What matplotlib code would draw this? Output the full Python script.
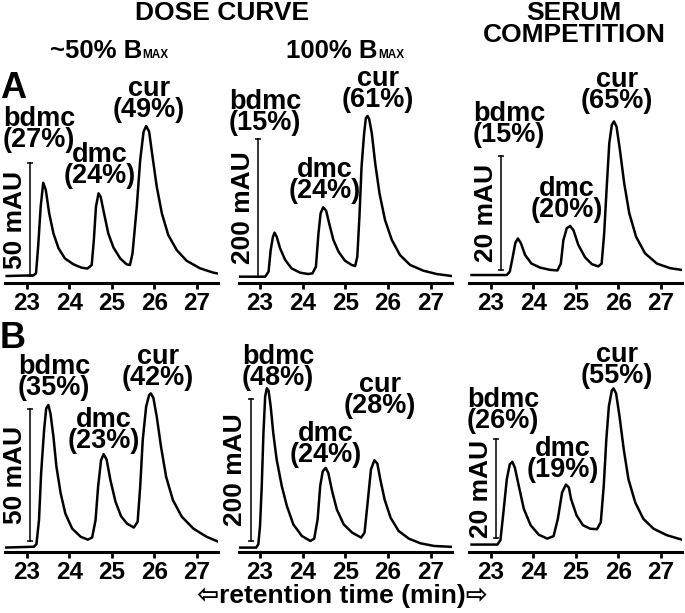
import matplotlib
matplotlib.use("Agg")
from matplotlib import pyplot as plt

plt.rcParams['font.family'] = ['Liberation Sans', 'DejaVu Sans']
plt.rcParams['font.weight'] = 'bold'

# ---- data (time in min, signal in mAU) ----
compounds = ['bdmc', 'dmc', 'cur']
tick_minutes = [23, 24, 25, 26, 27]

a1_t = [22.53, 23.16, 23.22, 23.27, 23.33, 23.39, 23.45, 23.53, 23.63, 23.75,
        23.90, 24.10, 24.29, 24.43, 24.53, 24.58, 24.63, 24.69, 24.74, 24.82,
        24.92, 25.04, 25.20, 25.35, 25.43, 25.49, 25.59, 25.67, 25.75, 25.81,
        25.88, 25.96, 26.06, 26.18, 26.33, 26.53, 26.76, 27.08, 27.39, 27.55]
a1_mau = [0.0, 0.3, 1.2, 13.0, 30.8, 41.4, 38.2, 27.8, 18.9, 12.3,
          7.8, 5.2, 3.7, 3.3, 4.9, 16.0, 30.8, 36.7, 35.2, 27.8,
          18.9, 12.7, 7.8, 5.2, 4.9, 10.1, 30.8, 51.5, 64.1, 66.6,
          64.1, 53.0, 39.6, 27.8, 18.2, 11.5, 6.8, 3.4, 1.5, 0.9]
a1_pct = [27, 24, 49]

a2_t = [22.49, 23.12, 23.20, 23.25, 23.30, 23.34, 23.39, 23.47, 23.59, 23.74,
        23.94, 24.13, 24.23, 24.31, 24.37, 24.42, 24.48, 24.55, 24.63, 24.72,
        24.84, 24.99, 25.15, 25.23, 25.28, 25.33, 25.38, 25.44, 25.48, 25.52,
        25.56, 25.62, 25.70, 25.80, 25.93, 26.09, 26.28, 26.52, 26.83, 27.14, 27.49]
a2_mau = [0.0, 0.0, 7.3, 38.8, 57.3, 64.1, 58.3, 41.3, 24.3, 12.1,
          5.8, 3.9, 4.9, 14.6, 63.1, 92.2, 101.0, 96.1, 75.2, 53.4,
          36.4, 23.3, 17.0, 15.5, 29.1, 87.4, 160.2, 208.7, 230.6, 234.0,
          229.1, 208.7, 165.0, 121.4, 82.5, 53.4, 31.6, 17.0, 8.7, 3.9, 1.0]
a2_pct = [15, 24, 61]

a3_t = [22.55, 23.38, 23.45, 23.52, 23.58, 23.64, 23.71, 23.81, 23.96, 24.16,
        24.40, 24.57, 24.65, 24.71, 24.79, 24.87, 24.95, 25.06, 25.22, 25.38,
        25.53, 25.61, 25.67, 25.73, 25.79, 25.85, 25.90, 25.96, 26.04, 26.14,
        26.26, 26.42, 26.63, 26.91, 27.22, 27.57]
a3_mau = [0.0, 0.0, 0.6, 3.2, 5.6, 6.4, 5.6, 3.5, 2.0, 1.3,
          0.9, 0.8, 2.0, 6.1, 8.2, 8.6, 7.8, 5.3, 3.1, 1.9,
          1.5, 2.0, 7.3, 15.5, 23.1, 26.3, 26.9, 26.0, 21.9, 16.1,
          10.8, 6.7, 3.8, 2.0, 1.2, 0.8]
a3_pct = [15, 20, 65]

b1_t = [22.51, 23.17, 23.23, 23.29, 23.34, 23.41, 23.46, 23.51, 23.56, 23.63,
        23.70, 23.80, 23.91, 24.07, 24.27, 24.44, 24.54, 24.62, 24.68, 24.75,
        24.81, 24.88, 24.97, 25.09, 25.22, 25.36, 25.52, 25.61, 25.67, 25.73,
        25.81, 25.88, 25.92, 25.98, 26.06, 26.16, 26.28, 26.44, 26.65, 26.92,
        27.23, 27.51]
b1_mau = [0.0, 0.3, 1.3, 10.4, 28.2, 44.7, 52.9, 54.2, 51.0, 42.1,
          30.7, 20.6, 12.9, 7.2, 4.1, 3.0, 3.8, 10.4, 23.1, 33.2,
          35.5, 33.5, 25.6, 17.4, 11.9, 9.1, 7.6, 9.8, 23.1, 40.9,
          53.6, 58.0, 58.6, 56.9, 49.7, 38.3, 26.9, 18.0, 11.7, 7.2,
          4.1, 2.2]
b1_pct = [35, 23, 42]

b2_t = [22.51, 22.91, 22.96, 23.00, 23.04, 23.08, 23.12, 23.16, 23.20, 23.25,
        23.31, 23.39, 23.51, 23.63, 23.78, 23.98, 24.18, 24.27, 24.35, 24.41,
        24.47, 24.54, 24.60, 24.69, 24.80, 24.96, 25.16, 25.37, 25.45, 25.53,
        25.60, 25.68, 25.75, 25.82, 25.92, 26.06, 26.25, 26.49, 26.76, 27.08, 27.55]
b2_mau = [0.0, 0.0, 4.7, 30.4, 86.7, 161.6, 213.1, 224.8, 221.5, 199.1,
          161.6, 124.1, 86.7, 58.5, 32.8, 16.4, 9.4, 12.6, 39.8, 86.7,
          107.7, 112.4, 105.4, 79.6, 53.9, 32.8, 21.1, 14.1, 21.1, 68.0,
          110.1, 123.2, 118.5, 96.0, 67.9, 42.2, 23.4, 12.6, 6.1, 2.3, 0.9]
b2_pct = [48, 24, 28]

b3_t = [22.55, 23.16, 23.23, 23.30, 23.38, 23.45, 23.51, 23.57, 23.66, 23.78,
        23.94, 24.13, 24.33, 24.48, 24.58, 24.68, 24.77, 24.84, 24.89, 25.02,
        25.17, 25.34, 25.50, 25.59, 25.66, 25.72, 25.78, 25.85, 25.89, 25.95,
        26.03, 26.13, 26.24, 26.40, 26.59, 26.83, 27.14, 27.53]
b3_mau = [0.0, 0.0, 0.9, 6.5, 13.2, 16.2, 16.7, 15.5, 11.9, 7.2,
          3.9, 2.0, 1.2, 1.7, 5.2, 10.5, 12.1, 11.5, 9.2, 5.9,
          3.9, 3.2, 3.1, 4.5, 11.9, 21.2, 27.9, 31.1, 31.5, 30.5,
          25.9, 19.2, 13.2, 8.5, 5.2, 3.2, 1.9, 0.9]
b3_pct = [26, 19, 55]

scale_bar_mau = [50, 200, 20]

# ---- layout (pixels of the 685x613 figure) ----
W, H = 685, 613
cols_px = [(5.4, 218.0), (238.7, 452.0), (469.4, 682.0)]
rows_px = [(110, 283), (380, 552)]
ylims = [[(-3.1, 73.7), (-9.2, 242.7), (-1.4, 28.9)],
         [(-1.7, 63.7), (-6.2, 236.4), (-1.5, 33.2)]]
bar_pos = [[(23.09, 0.0), (22.95, 0.0), (23.24, 0.9)],
           [(23.08, 2.5), (22.78, 9.4), (23.13, 1.3)]]
label_px = [[[(39, 153), (100, 189), (149, 123)],
             [(265, 136), (325, 204), (378, 113)],
             [(509, 148), (567, 223), (617, 114)]],
            [[(54, 401), (104, 454), (158, 391)],
             [(278, 391), (326, 468), (380, 419)],
             [(503, 434), (563, 483), (617, 389)]]]

traces = [[(a1_t, a1_mau, a1_pct), (a2_t, a2_mau, a2_pct), (a3_t, a3_mau, a3_pct)],
          [(b1_t, b1_mau, b1_pct), (b2_t, b2_mau, b2_pct), (b3_t, b3_mau, b3_pct)]]


def fx(x):
    return x / W


def fy(y):
    return 1 - y / H


fig = plt.figure(figsize=(W / 100, H / 100), dpi=100)

for r in range(2):
    top, bot = rows_px[r]
    for c in range(3):
        left, right = cols_px[c]
        ax = fig.add_axes([fx(left), fy(bot), (right - left) / W, (bot - top) / H])
        t, mau, pct = traces[r][c]
        ax.plot(t, mau, color='black', lw=1.8, solid_joinstyle='round')
        ax.set_xlim(22.5, 27.5)
        ax.set_ylim(*ylims[r][c])
        for s in ['top', 'left', 'right']:
            ax.spines[s].set_visible(False)
        ax.spines['bottom'].set_linewidth(2.2)
        ax.set_yticks([])
        ax.set_xticks(tick_minutes)
        ax.tick_params(axis='x', length=4, width=2, pad=2.5, labelsize=17.5)
        for lab in ax.get_xticklabels():
            lab.set_fontweight('bold')
        ax.patch.set_visible(False)

        # scale bar
        bx, by = bar_pos[r][c]
        size = scale_bar_mau[c]
        ax.plot([bx, bx], [by, by + size], color='black', lw=1.1, clip_on=False)
        ax.plot([bx, bx], [by, by + size], ls='none', marker='_', ms=5, mew=1.1,
                color='black', clip_on=False)
        ax.annotate('%d mAU' % size, xy=(bx, by + size / 2), xytext=(-11, 0),
                    textcoords='offset points', rotation=90, ha='center',
                    va='center', fontsize=19, fontweight='bold')

        # peak labels
        for k, name in enumerate(compounds):
            x, y = label_px[r][c][k]
            fig.text(fx(x), fy(y), '%s\n(%d%%)' % (name, pct[k]), ha='center',
                     va='bottom', fontsize=19.5, fontweight='bold', linespacing=0.74)

# titles
fig.text(fx(222), fy(13), 'DOSE CURVE', ha='center', va='center', fontsize=19, fontweight='bold')
fig.text(fx(574), fy(24), 'SERUM\nCOMPETITION', ha='center', va='center', fontsize=19,
         fontweight='bold', linespacing=0.9)
fig.text(fx(142), fy(58), '~50% B', ha='right', va='baseline', fontsize=18.5, fontweight='bold')
fig.text(fx(142), fy(58), 'MAX', ha='left', va='baseline', fontsize=8.5, fontweight='bold')
fig.text(fx(378), fy(58), '100% B', ha='right', va='baseline', fontsize=18.5, fontweight='bold')
fig.text(fx(378), fy(58), 'MAX', ha='left', va='baseline', fontsize=8.5, fontweight='bold')

fig.text(fx(13), fy(88), 'A', ha='center', va='center', fontsize=26, fontweight='bold')
fig.text(fx(13), fy(339), 'B', ha='center', va='center', fontsize=26, fontweight='bold')

fig.text(fx(342), fy(596), '\u21e6retention time (min)\u21e8', ha='center', va='center',
         fontsize=19, fontweight='bold')

fig.savefig('out.png', dpi=100)
